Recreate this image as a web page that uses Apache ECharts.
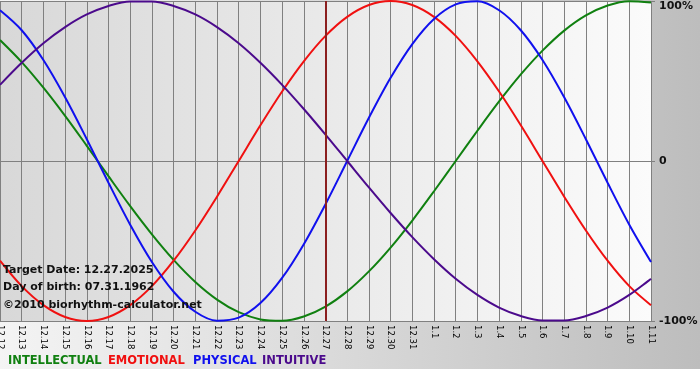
<!DOCTYPE html>
<html><head><meta charset="utf-8">
<script src="https://cdn.jsdelivr.net/npm/echarts@6/dist/echarts.min.js"></script>
<style>
html,body{margin:0;padding:0;background:#fff;}
#c{width:700px;height:380px;background:linear-gradient(to bottom, rgba(255,255,255,0) 369px, #ffffff 369px), linear-gradient(to right,#f4f4f4,#bdbdbd);}
</style>
</head><body><div id="c"></div>
<script>
const categories = ['12.12','12.13','12.14','12.15','12.16','12.17','12.18','12.19','12.20','12.21','12.22','12.23','12.24','12.25','12.26','12.27','12.28','12.29','12.30','12.31','1.1','1.2','1.3','1.4','1.5','1.6','1.7','1.8','1.9','1.10','1.11'];
const intellectual = [0.756,0.618,0.458,0.282,0.095,-0.095,-0.282,-0.458,-0.618,-0.756,-0.866,-0.945,-0.990,-0.999,-0.972,-0.910,-0.815,-0.690,-0.541,-0.372,-0.189,0.000,0.189,0.372,0.541,0.690,0.815,0.910,0.972,0.999,0.990];
const emotional = [-0.623,-0.782,-0.901,-0.975,-1.000,-0.975,-0.901,-0.782,-0.623,-0.434,-0.223,0.000,0.223,0.434,0.623,0.782,0.901,0.975,1.000,0.975,0.901,0.782,0.623,0.434,0.223,0.000,-0.223,-0.434,-0.623,-0.782,-0.901];
const physical = [0.942,0.817,0.631,0.398,0.136,-0.136,-0.398,-0.631,-0.817,-0.942,-0.998,-0.979,-0.888,-0.731,-0.520,-0.270,0.000,0.270,0.520,0.731,0.888,0.979,0.998,0.942,0.817,0.631,0.398,0.136,-0.136,-0.398,-0.631];
const intuitive = [0.476,0.614,0.736,0.837,0.916,0.969,0.997,0.997,0.969,0.916,0.837,0.736,0.614,0.476,0.325,0.165,0.000,-0.165,-0.325,-0.476,-0.614,-0.736,-0.837,-0.916,-0.969,-0.997,-0.997,-0.969,-0.916,-0.837,-0.736];
const targetDate = '12.27';
const seriesNames = ['INTELLECTUAL','EMOTIONAL','PHYSICAL','INTUITIVE'];
const infoLines = ['Target Date: 12.27.2025','Day of birth: 07.31.1962','\u00a92010 biorhythm-calculator.net'];

const colors = ['#108010','#f01010','#1010ee','#4b0a8c'];
const FONT = '"DejaVu Sans", Verdana, sans-serif';
const chart = echarts.init(document.getElementById('c'), null, {renderer:'canvas'});
const dataSets = [intellectual, emotional, physical, intuitive];
const series = dataSets.map((d, i) => ({
  name: seriesNames[i], type: 'line', data: d, smooth: 0.33, symbol: 'none',
  lineStyle: {color: colors[i], width: 2}, itemStyle: {color: colors[i]},
  z: 3, animation: false
}));
series[0].markLine = {
  silent: true, symbol: ['none','none'], animation: false,
  label: {show: false},
  lineStyle: {color: '#8b1f1f', width: 2, type: 'solid'},
  data: [{xAxis: targetDate}]
};
const legendX = [8, 108, 193, 262];
const graphics = seriesNames.map((n, i) => ({
  type: 'text', left: legendX[i], top: 355, z: 10,
  style: {text: n, fill: colors[i], font: 'bold 11.5px ' + FONT}
}));
const infoY = [265, 282, 300];
infoLines.forEach((t, i) => graphics.push({
  type: 'text', left: 3, top: infoY[i], z: 10,
  style: {text: t, fill: '#111', font: 'bold 11px ' + FONT}
}));
chart.setOption({
  animation: false,
  backgroundColor: 'transparent',
  grid: {
    left: 0, right: 49, top: 1, bottom: 59, show: true, borderWidth: 0,
    containLabel: false, outerBoundsMode: 'none',
    backgroundColor: {type:'linear', x:0, y:0, x2:1, y2:0, colorStops:[{offset:0,color:'#d8d8d8'},{offset:1,color:'#fbfbfb'}]}
  },
  xAxis: {
    type: 'category', data: categories, boundaryGap: false,
    axisLine: {show: true, lineStyle: {color: '#808080', width: 1}},
    axisTick: {show: true, length: 4, lineStyle: {color: '#808080'}},
    axisLabel: {rotate: -90, fontSize: 8.5, fontFamily: FONT, color: '#000', margin: 4, interval: 0},
    splitLine: {show: true, lineStyle: {color: '#808080', width: 1}}
  },
  yAxis: {
    type: 'value', position: 'right', min: -1, max: 1, interval: 1,
    axisLine: {show: false},
    axisTick: {show: true, length: 4, lineStyle: {color: '#808080'}},
    axisLabel: {
      margin: 8, fontSize: 11, fontWeight: 'bold', fontFamily: FONT, color: '#111',
      verticalAlignMaxLabel: 'top',
      formatter: v => v === 0 ? '0' : Math.round(v * 100) + '%'
    },
    splitLine: {show: true, lineStyle: {color: '#808080', width: 1}}
  },
  series: series,
  graphic: graphics
});
</script></body></html>
